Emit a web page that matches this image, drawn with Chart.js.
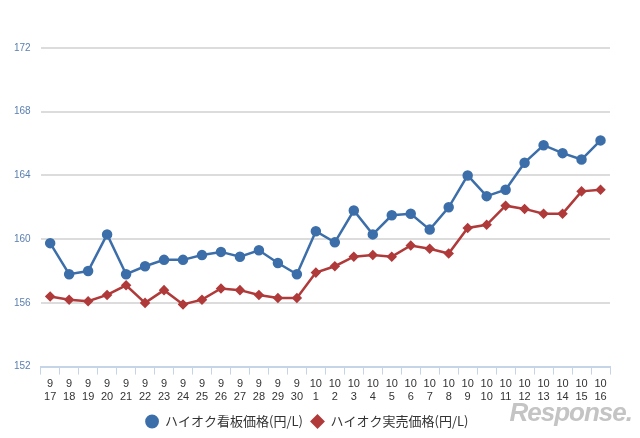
<!DOCTYPE html>
<html>
<head>
<meta charset="utf-8">
<script src="https://cdn.jsdelivr.net/npm/chart.js@4"></script>
<style>
  body { margin: 0; background: #fff; }
  #wrap { position: relative; width: 640px; height: 438px; }
  #logo { position: absolute; right: 8px; bottom: 10px; font: italic bold 26px "Liberation Sans", sans-serif; color: #c4c4c4; letter-spacing: -1px; }
</style>
</head>
<body>
<div id="wrap">
  <canvas id="myChart" width="640" height="438"></canvas>
  <div id="logo">Response.</div>
</div>
<script>
const labels = [
  ["9","17"],["9","18"],["9","19"],["9","20"],["9","21"],["9","22"],["9","23"],["9","24"],["9","25"],["9","26"],
  ["9","27"],["9","28"],["9","29"],["9","30"],["10","1"],["10","2"],["10","3"],["10","4"],["10","5"],["10","6"],
  ["10","7"],["10","8"],["10","9"],["10","10"],["10","11"],["10","12"],["10","13"],["10","14"],["10","15"],["10","16"]
];
const listPrice = [159.75, 157.8, 158.0, 160.3, 157.8, 158.3, 158.7, 158.7, 159.0, 159.2,
  158.9, 159.3, 158.5, 157.8, 160.5, 159.8, 161.8, 160.3, 161.5, 161.6,
  160.6, 162.0, 164.0, 162.7, 163.1, 164.8, 165.9, 165.4, 165.0, 166.2];
const actualPrice = [156.4, 156.2, 156.1, 156.5, 157.1, 156.0, 156.8, 155.9, 156.2, 156.9,
  156.8, 156.5, 156.3, 156.3, 157.9, 158.3, 158.9, 159.0, 158.9, 159.6,
  159.4, 159.1, 160.7, 160.9, 162.1, 161.9, 161.6, 161.6, 163.0, 163.1];

const ctx = document.getElementById("myChart").getContext("2d");
new Chart(ctx, {
  type: "line",
  data: {
    labels: labels,
    datasets: [
      {
        label: "ハイオク看板価格(円/L)",
        data: listPrice,
        borderColor: "#3c6eaa",
        backgroundColor: "#3c6eaa",
        borderWidth: 2.5,
        pointRadius: 4,
        pointStyle: "circle",
        tension: 0
      },
      {
        label: "ハイオク実売価格(円/L)",
        data: actualPrice,
        borderColor: "#b03a3a",
        backgroundColor: "#b03a3a",
        borderWidth: 2.5,
        pointRadius: 3.5,
        pointStyle: "rectRot",
        tension: 0
      }
    ]
  },
  options: {
    responsive: false,
    animation: false,
    layout: { padding: { left: 4, right: 30, top: 48, bottom: 0 } },
    plugins: {
      legend: {
        position: "bottom",
        labels: {
          usePointStyle: true,
          boxHeight: 8,
          color: "#333",
          font: { size: 13, family: "'Noto Sans CJK JP', sans-serif" },
          padding: 8
        }
      }
    },
    scales: {
      y: {
        min: 152, max: 172,
        ticks: { stepSize: 4, color: "#5a7fb0", font: { size: 10 }, padding: 10 },
        grid: { color: "#dcdcdc", lineWidth: 2, drawTicks: false },
        border: { display: false }
      },
      x: {
        offset: true,
        ticks: { color: "#333", font: { size: 11 }, maxRotation: 0, autoSkip: false },
        grid: { display: true, drawOnChartArea: false, color: "#c5d4e6", tickLength: 8, offset: true },
        border: { color: "#c5d4e6", width: 2 }
      }
    }
  }
});
</script>
</body>
</html>
